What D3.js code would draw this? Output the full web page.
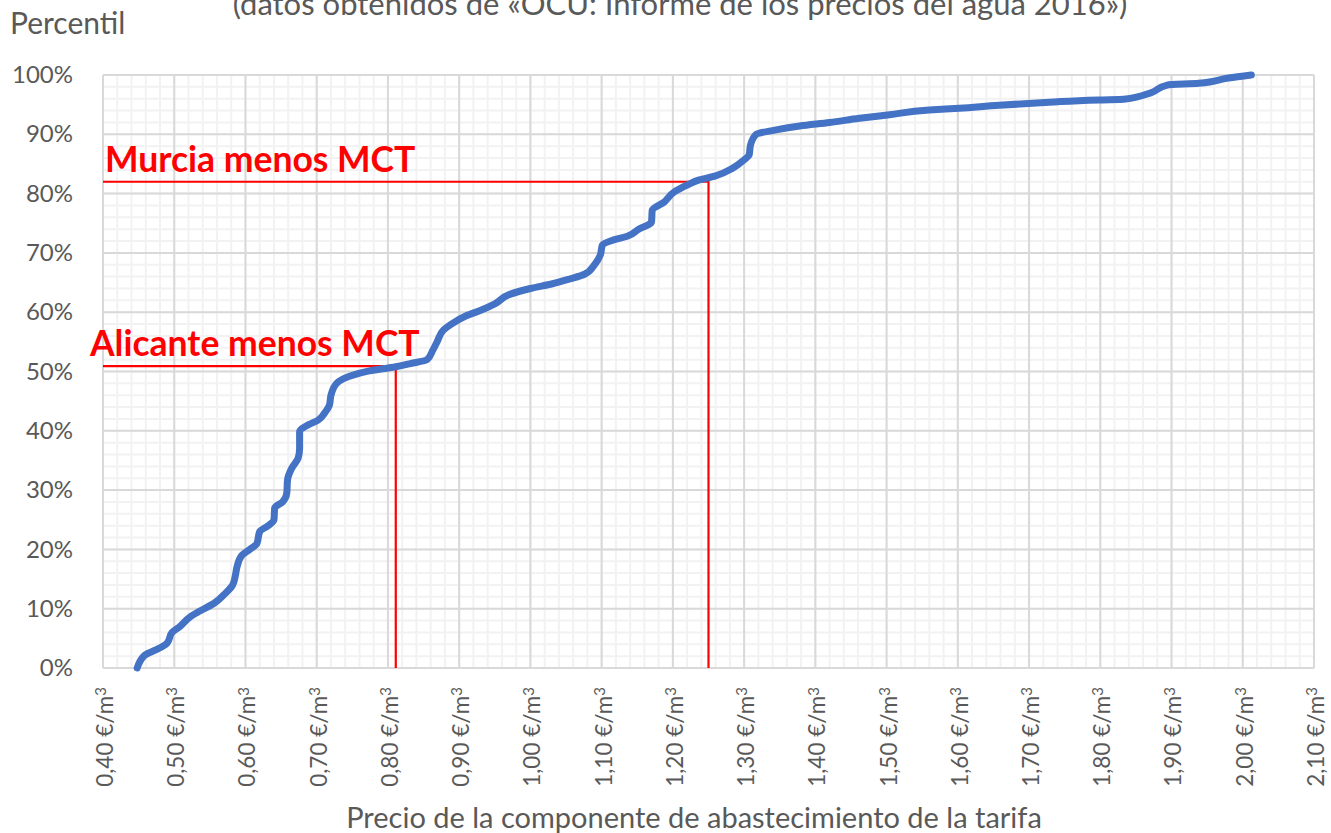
<!DOCTYPE html>
<html>
<head>
<meta charset="utf-8">
<script src="https://cdn.jsdelivr.net/npm/d3@7"></script>
<style>
  body { margin: 0; background: #fff; }
  svg { display: block; font-family: Lato, "Open Sans", sans-serif; }
</style>
</head>
<body>
<svg id="chart" width="1331" height="833"></svg>
<script>
// precio (€/m³) y percentil de la curva
const precios = [0.448, 0.459, 0.48, 0.49, 0.497, 0.508, 0.522, 0.536, 0.557, 0.571, 0.582, 0.586, 0.588, 0.595, 0.606, 0.616, 0.62, 0.632, 0.64, 0.641, 0.652, 0.658, 0.659, 0.665, 0.674, 0.676, 0.676, 0.688, 0.702, 0.711, 0.718, 0.72, 0.728, 0.746, 0.774, 0.811, 0.83, 0.855, 0.863, 0.869, 0.878, 0.889, 0.91, 0.932, 0.95, 0.971, 1.0, 1.031, 1.055, 1.076, 1.09, 1.098, 1.101, 1.117, 1.136, 1.152, 1.17, 1.171, 1.188, 1.202, 1.221, 1.237, 1.26, 1.284, 1.30, 1.307, 1.309, 1.317, 1.343, 1.378, 1.42, 1.462, 1.504, 1.56, 1.602, 1.658, 1.728, 1.798, 1.833, 1.871, 1.894, 1.938, 1.98, 2.012];
const percentiles = [0, 0.022, 0.034, 0.042, 0.06, 0.07, 0.086, 0.096, 0.11, 0.125, 0.14, 0.157, 0.17, 0.19, 0.2, 0.21, 0.23, 0.24, 0.25, 0.27, 0.28, 0.295, 0.317, 0.337, 0.354, 0.37, 0.398, 0.41, 0.418, 0.43, 0.444, 0.46, 0.48, 0.492, 0.501, 0.508, 0.513, 0.52, 0.536, 0.55, 0.57, 0.58, 0.594, 0.604, 0.614, 0.63, 0.64, 0.648, 0.656, 0.664, 0.68, 0.696, 0.713, 0.722, 0.728, 0.74, 0.752, 0.772, 0.786, 0.803, 0.815, 0.823, 0.83, 0.843, 0.857, 0.865, 0.882, 0.9, 0.907, 0.914, 0.92, 0.927, 0.933, 0.941, 0.944, 0.949, 0.954, 0.958, 0.959, 0.97, 0.983, 0.986, 0.995, 1.0];

// referencias marcadas en rojo
const refNombres = ["Murcia menos MCT", "Alicante menos MCT"];
const refPrecios = [1.25, 0.811];
const refPercentiles = [0.82, 0.509];

const xTicks = d3.range(0.4, 2.1001, 0.1);
const yTicks = d3.range(0, 1.0001, 0.1);

const titulo = "(datos obtenidos de «OCU: Informe de los precios del agua 2016»)";
const yTitulo = "Percentil";
const xTitulo = "Precio de la componente de abastecimiento de la tarifa";

const svg = d3.select("#chart");
const mLeft = 103, mRight = 1314, mTop = 75, mBottom = 668;
const textColor = "#595959";

const x = d3.scaleLinear().domain([0.4, 2.1]).range([mLeft, mRight]);
const y = d3.scaleLinear().domain([0, 1]).range([mBottom, mTop]);

const es = d3.formatLocale({decimal: ",", thousands: ".", grouping: [3], currency: ["", " €"]});
const fmtX = d => es.format(".2f")(d) + " €/m";
const fmtY = d => Math.round(d * 100) + "%";

// rejilla menor
const grid = svg.append("g");
grid.append("g").selectAll("line").data(d3.range(0.4, 2.1001, 0.02)).join("line")
    .attr("x1", d => x(d)).attr("x2", d => x(d))
    .attr("y1", mTop).attr("y2", mBottom)
    .attr("stroke", "#f2f2f2").attr("stroke-width", 2);
grid.append("g").selectAll("line").data(d3.range(0, 1.0001, 0.02)).join("line")
    .attr("x1", mLeft).attr("x2", mRight)
    .attr("y1", d => y(d)).attr("y2", d => y(d))
    .attr("stroke", "#f2f2f2").attr("stroke-width", 2);
// rejilla mayor
grid.append("g").selectAll("line").data(xTicks).join("line")
    .attr("x1", d => x(d)).attr("x2", d => x(d))
    .attr("y1", mTop).attr("y2", mBottom)
    .attr("stroke", "#d9d9d9").attr("stroke-width", 2);
grid.append("g").selectAll("line").data(yTicks).join("line")
    .attr("x1", mLeft).attr("x2", mRight)
    .attr("y1", d => y(d)).attr("y2", d => y(d))
    .attr("stroke", "#d9d9d9").attr("stroke-width", 2);

// ejes
const yAxis = svg.append("g")
    .attr("transform", `translate(${mLeft},0)`)
    .call(d3.axisLeft(y).tickValues(yTicks).tickFormat(fmtY).tickSize(0).tickPadding(30));
yAxis.select(".domain").remove();
yAxis.selectAll("text").attr("fill", textColor).style("font-size", "24px")
    .attr("font-family", "Lato");

const xAxis = svg.append("g")
    .attr("transform", `translate(0,${mBottom})`)
    .call(d3.axisBottom(x).tickValues(xTicks).tickFormat(fmtX).tickSize(0));
xAxis.select(".domain").remove();
xAxis.selectAll("text")
    .attr("fill", textColor).style("font-size", "22.5px").attr("font-family", "Lato")
    .attr("text-anchor", "end")
    .attr("transform", "rotate(-90)")
    .attr("x", -19).attr("y", 0).attr("dy", "0.42em");
// superíndice del m³
xAxis.selectAll("text").append("tspan")
    .attr("dy", "-0.45em").style("font-size", "15px").text("3");

// líneas de referencia
const refs = svg.append("g");
refPrecios.forEach((p, i) => {
    refs.append("path")
        .attr("d", `M${mLeft},${y(refPercentiles[i])}H${x(p)}V${mBottom}`)
        .attr("fill", "none").attr("stroke", "#ff0000").attr("stroke-width", 2.2);
});

// curva
const pts = precios.map((p, i) => [p, percentiles[i]]);
svg.append("path")
    .datum(pts)
    .attr("fill", "none")
    .attr("stroke", "#4472c4")
    .attr("stroke-width", 7)
    .attr("stroke-linejoin", "round")
    .attr("stroke-linecap", "round")
    .attr("d", d3.line().x(d => x(d[0])).y(d => y(d[1])).curve(d3.curveMonotoneY));

// etiquetas rojas
const lblX = [105, 90];
refNombres.forEach((n, i) => {
    svg.append("text")
        .attr("x", lblX[i]).attr("y", y(refPercentiles[i]) - 10)
        .attr("fill", "#ff0000").attr("font-weight", "bold")
        .style("font-size", "35.5px")
        .text(n);
});

// textos
svg.append("text").attr("x", 680).attr("y", 15).attr("text-anchor", "middle")
    .attr("fill", textColor).style("font-size", "31px").text(titulo);
svg.append("text").attr("x", 10).attr("y", 34)
    .attr("fill", textColor).style("font-size", "30px").text(yTitulo);
svg.append("text").attr("x", 694).attr("y", 828).attr("text-anchor", "middle")
    .attr("fill", textColor).style("font-size", "29px").text(xTitulo);
</script>
</body>
</html>
